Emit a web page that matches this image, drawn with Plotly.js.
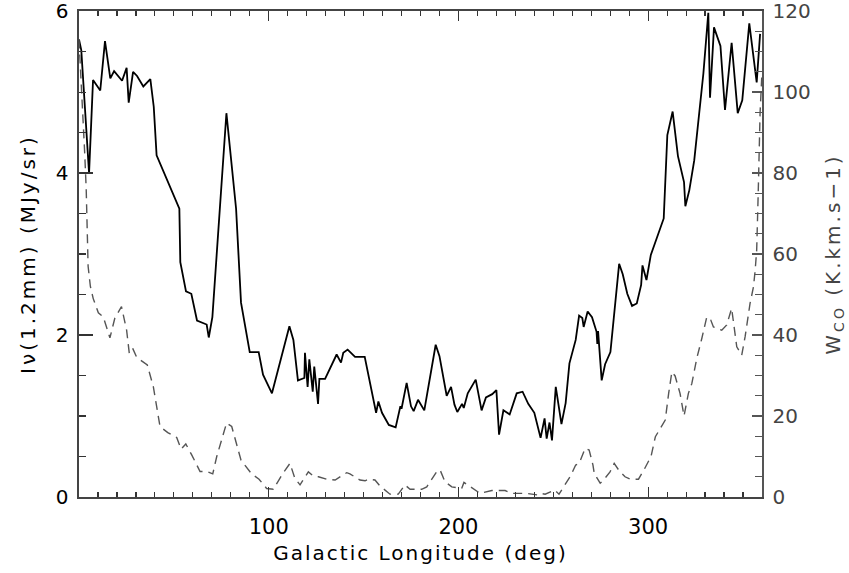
<!DOCTYPE html>
<html>
<head>
<meta charset="utf-8">
<script src="https://cdn.plot.ly/plotly-3.0.1.min.js"></script>
<style>
  body { margin: 0; padding: 0; background: #fff; }
  #chart { width: 849px; height: 573px; }
  .xtitle { letter-spacing: 2px; }
  .ytitle { letter-spacing: 3px; }
  .y2title { letter-spacing: 3px; }
</style>
</head>
<body>
<div id="chart"></div>
<script>
// 1.2 mm intensity (left axis, MJy/sr) versus Galactic longitude (deg)
var lonI = [0, 1.2, 5.3, 7.4, 11.2, 13.7, 16.5, 18.5, 22.7, 25.1, 26.2, 28.5, 30.6, 33.9, 37.6, 39.4, 40.9, 42.7,
  52.9, 53.4, 56.4, 59.2, 60.3, 62.2, 67.3, 68.4, 70.3, 77.7, 82.8, 85.4, 90, 94.7, 97, 101.7, 110.9, 113,
  115.4, 118.8, 119.1, 120.5, 121.4, 123.2, 124, 126, 126.7, 129.7, 135.8, 138.1, 139.3, 141.6, 145.5, 150.6,
  156.6, 157.8, 159.7, 163.3, 166.9, 169.4, 170, 172.7, 175, 176.4, 178.7, 182, 188, 190, 193.8, 196.1, 197.9,
  199.4, 201.9, 202.8, 204.9, 209.1, 212.2, 214.5, 217.8, 220, 221.4, 223.7, 227, 230.7, 233.8, 236.8, 240,
  243.3, 245.4, 246.5, 248, 249.3, 251.3, 254.3, 256.5, 258.5, 261.8, 263.6, 265.3, 266, 268.1, 270.4, 272.8,
  273.2, 273.6, 275.5, 277.3, 280.1, 284.7, 286.6, 289, 291.5, 294, 296.3, 297, 299.1, 301.4, 308.2, 310.1,
  312.9, 315.7, 318.9, 319.6, 321.7, 324.3, 329.1, 331.7, 332.6, 334.7, 338.1, 340.5, 344, 347.2, 349.6, 353.3,
  357.2, 359];
var valI = [5.65, 5.52, 4.0, 5.15, 5.02, 5.63, 5.17, 5.26, 5.14, 5.30, 4.87, 5.25, 5.20, 5.07, 5.16, 4.82, 4.22, 4.12,
  3.56, 2.90, 2.54, 2.51, 2.39, 2.18, 2.13, 1.97, 2.22, 4.74, 3.56, 2.40, 1.79, 1.79, 1.51, 1.28, 2.11, 1.94,
  1.44, 1.47, 1.78, 1.36, 1.70, 1.30, 1.61, 1.15, 1.46, 1.46, 1.76, 1.66, 1.78, 1.82, 1.73, 1.73,
  1.04, 1.18, 1.04, 0.89, 0.86, 1.12, 1.09, 1.41, 1.12, 1.06, 1.20, 1.07, 1.88, 1.74, 1.25, 1.36, 1.14,
  1.05, 1.15, 1.10, 1.28, 1.45, 1.07, 1.23, 1.27, 1.32, 0.77, 1.07, 1.02, 1.28, 1.30, 1.15, 1.04,
  0.73, 0.97, 0.72, 0.92, 0.70, 1.36, 0.90, 1.16, 1.65, 1.94, 2.24, 2.21, 2.10, 2.29, 2.22, 2.04,
  1.89, 2.05, 1.44, 1.64, 1.79, 2.88, 2.75, 2.51, 2.36, 2.39, 2.62, 2.86, 2.68, 2.99, 3.44, 4.47,
  4.76, 4.21, 3.89, 3.59, 3.79, 4.16, 5.23, 5.98, 4.93, 5.80, 5.57, 4.78, 5.61, 4.74, 4.90, 5.85,
  5.12, 5.72];

// CO integrated intensity (right axis, K.km/s) versus Galactic longitude (deg)
var lonCO = [0, 1.5, 3, 3.8, 4.3, 4.8, 6, 7.5, 10.2, 12.8, 16.3, 18.9, 22.4, 25.1, 26.5, 28.3, 30.4, 36, 39.2,
  41, 42.7, 46.8, 51.5, 53.8, 56.3, 59.4, 61.2, 63.8, 67.3, 70.5, 72.6, 75.8, 77.8, 80.5, 83.1, 85.4, 91,
  94.9, 98.9, 102.4, 105.1, 107.4, 111.2, 113.8, 116.5, 119.2, 120.9, 123.5, 126.2, 130.6, 135, 141.1, 142.8,
  148.1, 150.8, 152.5, 156, 158.7, 163.9, 168.3, 171.8, 174.5, 180.6, 183.3, 188.5, 190.3, 192.9, 196.5,
  201.7, 202.9, 207.8, 211.4, 217.6, 220.2, 224.6, 228.1, 236, 241.6, 243.3, 245.7, 250.7, 253, 256.6, 259.1,
  261.8, 263.6, 266.8, 268.9, 270.9, 271.6, 274.7, 276.5, 279.9, 282.1, 284.4, 287.8, 290.5, 294.9, 297.9,
  300.3, 301.5, 303.8, 309, 310.8, 312.5, 314.2, 316.8, 318.9, 321.2, 323, 325.6, 328.3, 330.9, 333, 334.4,
  338.8, 341.4, 344, 344.9, 346.7, 349.3, 351.1, 353.7, 355.5, 356.4, 357.2, 358, 359, 360];
var valCO = [113, 100, 85, 76, 66, 57, 52, 49, 45.5, 44.5, 39.3, 44.2, 47, 41.2, 35.5, 36.7, 34.5, 32.6, 27.2,
  22.3, 17.4, 15.9, 14.7, 11.8, 13.1, 10.4, 8.7, 6.3, 6.3, 5.7, 10, 15.3, 18.3, 17.4, 13.3, 9.1, 5.7,
  4.4, 2.1, 1.9, 4, 5.8, 8.3, 4.6, 3, 5, 6.2, 5.2, 5, 4.4, 4.2, 6, 5.7,
  4.2, 4, 4.4, 4.2, 2.7, 0.7, 0.7, 3, 1.9, 1.9, 2.5, 6.2, 6.7, 3.8, 2.5,
  2.1, 3.6, 2.1, 0.9, 1.6, 1.6, 1.6, 0.9, 0.9, 0.5, 0.9, 0.7, 1.7, 0.7, 3.4, 5.2,
  7.9, 8.3, 12, 11.6, 7.9, 5.8, 3.4, 4.2, 6.2, 8.3, 6.7, 5, 4.4, 4.4, 6.8,
  9.1, 10, 14.9, 19, 25.6, 30.9, 29.9, 25.6, 20, 25.6, 28, 34.2, 39.2, 44.5, 43.7, 42,
  41.2, 42.5, 46.6, 43.7, 37.1, 35, 39.6, 47.8, 51.9, 56, 61, 75, 95, 105];

var xTickVals = [100, 200, 300];
var yTickVals = [0, 2, 4, 6];
var y2TickVals = [0, 20, 40, 60, 80, 100, 120];

var traces = [
  {
    x: lonI, y: valI, type: 'scatter', mode: 'lines', yaxis: 'y',
    line: { color: '#000000', width: 1.8 }, hoverinfo: 'skip', showlegend: false
  },
  {
    x: lonCO, y: valCO, type: 'scatter', mode: 'lines', yaxis: 'y2',
    line: { color: '#555555', width: 1.4, dash: '9px,6px' }, hoverinfo: 'skip', showlegend: false
  }
];

var layout = {
  width: 849, height: 573,
  margin: { l: 79, r: 87, t: 11, b: 76, pad: 0 },
  paper_bgcolor: '#ffffff', plot_bgcolor: '#ffffff',
  showlegend: false,
  xaxis: {
    range: [0, 360], tickvals: xTickVals, ticktext: xTickVals.map(String),
    ticks: 'inside', ticklen: 10, tickwidth: 1.3, tickcolor: '#333333',
    minor: { dtick: 10, tick0: 0, ticks: 'inside', ticklen: 5, tickwidth: 1.2, tickcolor: '#333333' },
    showline: true, linecolor: '#444444', linewidth: 1.6, mirror: 'ticks',
    showgrid: false, zeroline: false,
    tickfont: { family: 'DejaVu Sans, sans-serif', size: 21, color: '#000000' },
    ticklabelstandoff: 10,
    title: { text: 'Galactic Longitude (deg)', font: { family: 'DejaVu Sans, sans-serif', size: 20, color: '#000000' }, standoff: 8 }
  },
  yaxis: {
    range: [0, 6.002], tickvals: yTickVals, ticktext: yTickVals.map(String),
    ticks: 'inside', ticklen: 14, tickwidth: 1.3, tickcolor: '#333333',
    minor: { dtick: 0.5, tick0: 0, ticks: 'inside', ticklen: 7, tickwidth: 1.2, tickcolor: '#333333' },
    showline: true, linecolor: '#444444', linewidth: 1.6, mirror: false,
    showgrid: false, zeroline: false,
    tickfont: { family: 'DejaVu Sans, sans-serif', size: 20, color: '#000000' },
    ticklabelstandoff: 5, ticklabeloverflow: 'allow',
    title: { text: 'Iν(1.2mm) (MJy/sr)', font: { family: 'DejaVu Sans, sans-serif', size: 20, color: '#000000' }, standoff: 14 }
  },
  yaxis2: {
    overlaying: 'y', side: 'right', anchor: 'x',
    range: [0, 120.04], tickvals: y2TickVals, ticktext: y2TickVals.map(String),
    ticks: 'inside', ticklen: 10, tickwidth: 1.3, tickcolor: '#555555',
    minor: { dtick: 5, tick0: 0, ticks: 'inside', ticklen: 7, tickwidth: 1.2, tickcolor: '#555555' },
    showline: true, linecolor: '#555555', linewidth: 1.6,
    showgrid: false, zeroline: false,
    tickfont: { family: 'DejaVu Sans, sans-serif', size: 20, color: '#444444' },
    ticklabelstandoff: 5, ticklabeloverflow: 'allow',
    title: { text: 'W<sub>CO</sub> (K.km.s−1)', font: { family: 'DejaVu Sans, sans-serif', size: 20, color: '#444444' }, standoff: 16 }
  }
};

Plotly.newPlot('chart', traces, layout, { staticPlot: true, displayModeBar: false });
</script>
</body>
</html>
